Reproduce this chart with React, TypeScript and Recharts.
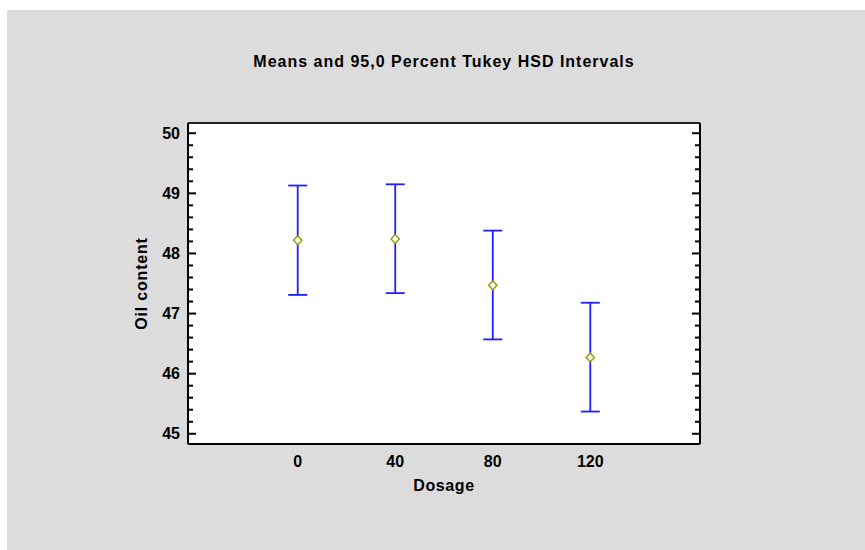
import React from 'react';
import { ComposedChart, Scatter, ErrorBar, XAxis, YAxis, CartesianGrid, Label } from 'recharts';

const dosages = [0, 40, 80, 120];
const means = [48.22, 48.24, 47.47, 46.27];
const lowerLimits = [47.31, 47.34, 46.57, 45.37];
const upperLimits = [49.13, 49.15, 48.38, 47.18];

const xTicks = [0, 40, 80, 120];
const yMajorTicks = [45, 46, 47, 48, 49, 50];
const yMinorTicks = [
  45.2, 45.4, 45.6, 45.8, 46.2, 46.4, 46.6, 46.8, 47.2, 47.4, 47.6, 47.8,
  48.2, 48.4, 48.6, 48.8, 49.2, 49.4, 49.6, 49.8,
];

const xDomain = [-45, 165];
const yDomain = [44.83, 50.17];

const FONT = '"Liberation Sans", Arial, sans-serif';
const INK = '#000000';

const data = dosages.map((d, i) => ({
  dosage: d,
  mean: means[i],
  err: [means[i] - lowerLimits[i], upperLimits[i] - means[i]],
}));

// hollow olive diamond for the group mean
const Diamond = (props: any) => {
  const { cx, cy } = props;
  if (cx == null || cy == null) return null;
  const w = 4.2;
  const h = 4.4;
  return (
    <polygon
      points={`${cx},${cy - h} ${cx + w},${cy} ${cx},${cy + h} ${cx - w},${cy}`}
      fill="#ffffff"
      stroke="#999900"
      strokeWidth={1.4}
    />
  );
};

// tick marks only, no label text
const NoLabel = () => <g />;

const tickFont = { fontFamily: FONT, fontSize: 16, fontWeight: 700, fill: INK };

const markAxis = (id: string, side: 'left' | 'right', ticks: number[], size: number, border: boolean) => (
  <YAxis
    key={id}
    yAxisId={id}
    orientation={side}
    mirror
    width={1}
    type="number"
    domain={yDomain}
    ticks={ticks}
    interval={0}
    allowDataOverflow
    tick={NoLabel}
    tickSize={size}
    tickLine={{ stroke: INK, strokeWidth: 2 }}
    axisLine={border ? { stroke: INK, strokeWidth: 2 } : false}
  />
);

export default function App() {
  return (
    <div style={{ position: 'absolute', left: 0, top: 0, width: 865, height: 550, background: '#ffffff' }}>
      <div style={{ position: 'absolute', left: 7, top: 10, right: 0, bottom: 0, background: '#dcdcdc' }} />
      <div
        style={{
          position: 'absolute',
          left: 194,
          top: 53.8,
          width: 500,
          textAlign: 'center',
          fontFamily: FONT,
          fontSize: 16,
          fontWeight: 700,
          lineHeight: '16px',
          letterSpacing: 1,
          color: INK,
          whiteSpace: 'nowrap',
        }}
      >
        Means and 95,0 Percent Tukey HSD Intervals
      </div>
      <div style={{ position: 'absolute', left: 0, top: 0 }}>
        <ComposedChart
          width={865}
          height={550}
          data={data}
          margin={{ top: 122, left: 95, right: 165, bottom: 24 }}
        >
          <CartesianGrid xAxisId="x" yAxisId="y" horizontal={false} vertical={false} fill="#ffffff" />

          <XAxis
            xAxisId="x"
            dataKey="dosage"
            type="number"
            domain={xDomain}
            ticks={xTicks}
            interval={0}
            allowDataOverflow
            tickLine={false}
            tickSize={0}
            tickMargin={12}
            height={82}
            axisLine={{ stroke: INK, strokeWidth: 2 }}
            tick={tickFont}
          >
            <Label
              value="Dosage"
              position="center"
              style={{ fontFamily: FONT, fontSize: 16, fontWeight: 700, fill: INK, letterSpacing: 0.6 }}
            />
          </XAxis>
          <XAxis
            xAxisId="top"
            orientation="top"
            type="number"
            domain={xDomain}
            height={1}
            tick={NoLabel}
            tickLine={false}
            axisLine={{ stroke: '#222222', strokeWidth: 2 }}
          />

          <YAxis
            yAxisId="y"
            type="number"
            domain={yDomain}
            ticks={yMajorTicks}
            interval={0}
            allowDataOverflow
            tickLine={false}
            tickSize={0}
            tickMargin={8}
            width={93}
            axisLine={{ stroke: INK, strokeWidth: 2 }}
            tick={tickFont}
          >
            <Label
              value="Oil content"
              position="center"
              angle={-90}
              style={{ fontFamily: FONT, fontSize: 16, fontWeight: 700, fill: INK, letterSpacing: 0.8 }}
            />
          </YAxis>
          {/* inward tick marks: long for whole units, short for the 0.2 steps */}
          {markAxis('leftMajor', 'left', yMajorTicks, 8, false)}
          {markAxis('leftMinor', 'left', yMinorTicks, 4, false)}
          {markAxis('rightMajor', 'right', yMajorTicks, 8, true)}
          {markAxis('rightMinor', 'right', yMinorTicks, 4, false)}

          <Scatter
            xAxisId="x"
            yAxisId="y"
            dataKey="mean"
            shape={<Diamond />}
            isAnimationActive={false}
          >
            <ErrorBar
              dataKey="err"
              direction="y"
              width={9.5}
              stroke="#1f1fff"
              strokeWidth={1.8}
              isAnimationActive={false}
            />
          </Scatter>
        </ComposedChart>
      </div>
    </div>
  );
}
